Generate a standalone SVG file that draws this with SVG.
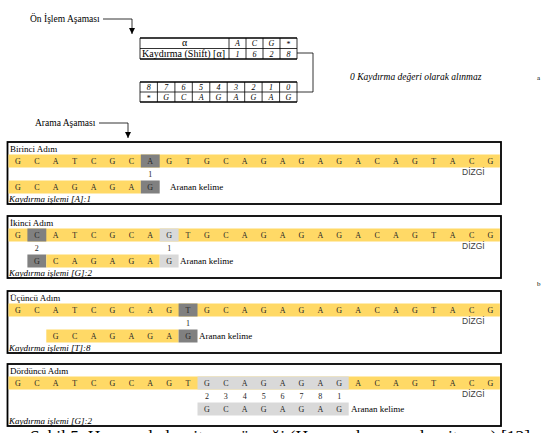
<svg xmlns="http://www.w3.org/2000/svg" width="542" height="433" viewBox="0 0 542 433">
<style>
.box{fill:#fff;stroke:#000;stroke-width:1.8}
.ye{fill:#FFD966}
.dk{fill:#808080}
.lt{fill:#D9D9D9}
.seq{font-family:"Liberation Serif",serif;font-size:8px;fill:#262626;text-anchor:middle}
.lbl{font-family:"Liberation Serif",serif;font-size:9px;fill:#000}
.it{font-style:italic}
.dz{font-family:"Liberation Sans",sans-serif;font-size:8.5px;fill:#404040}
.tb{font-family:"Liberation Serif",serif;fill:#000}
.ti{font-size:8px;font-style:italic;text-anchor:middle}
.thin{stroke:#000;stroke-width:0.8;fill:none}
.thick{stroke:#000;stroke-width:1.5;fill:none}
.conn{stroke:#000;stroke-width:0.8;fill:none}
</style>
<defs>
<marker id="ah" markerUnits="userSpaceOnUse" markerWidth="6" markerHeight="6" refX="6" refY="3" orient="auto">
<path d="M0,0 L6,3 L0,6 z" fill="#000"/>
</marker>
</defs>
<rect width="542" height="433" fill="#fff"/>

<g id="connectors">
<path class="conn" d="M103,19 H132 V34" marker-end="url(#ah)"/>
<path class="conn" d="M99,123 H128 V138" marker-end="url(#ah)"/>
<path class="conn" d="M297,53 H313 V92 H297"/>
</g>

<g id="label-onislem">
<text class="lbl" x="30" y="22" style="font-size:9.5px">Ön İşlem Aşaması</text>
</g>
<g id="label-arama">
<text class="lbl" x="35" y="126" style="font-size:9.5px">Arama Aşaması</text>
</g>

<g id="shift-table">
<path class="thin" d="M140,38 V59 M229,38 V59 M246,38 V59 M263,38 V59 M280,38 V59 M297,38 V59 M140,48.5 H297"/>
<path class="thick" d="M140,38 H297 M140,59 H297"/>
<text class="tb" x="184.5" y="46" text-anchor="middle" font-size="10">α</text>
<text class="tb" x="142" y="56.5" font-size="10">Kaydırma (Shift) [α]</text>
<text class="tb ti" x="237.5 254.5 271.5" y="46">ACG</text>
<text class="tb" x="288.5" y="47" font-size="8" text-anchor="middle">*</text>
<text class="tb ti" x="237.5 254.5 271.5 288.5" y="56.5">1628</text>
</g>

<g id="index-table">
<path class="thin" d="M140,82 V102 M157.4,82 V102 M174.9,82 V102 M192.3,82 V102 M209.8,82 V102 M227.2,82 V102 M244.7,82 V102 M262.1,82 V102 M279.6,82 V102 M297,82 V102 M140,92 H297"/>
<path class="thick" d="M140,82 H297 M140,102 H297"/>
<text class="tb ti" x="148.7 166.2 183.6 201.1 218.5 236 253.4 270.9 288.3" y="90">876543210</text>
<text class="tb" x="148.7" y="101" font-size="8" text-anchor="middle">*</text>
<text class="tb ti" x="166.2 183.6 201.1 218.5 236 253.4 270.9 288.3" y="100">GCAGAGAG</text>
</g>

<g id="note">
<text class="lbl it" x="350" y="80" style="font-size:9.5px">0 Kaydırma değeri olarak alınmaz</text>
<text class="lbl" x="537" y="80" style="font-size:7px">a</text>
<text class="lbl" x="537" y="286" style="font-size:7px">b</text>
</g>

<g id="step1">
<rect class="box" x="7.5" y="142" width="493.5" height="62"/>
<text class="lbl" x="10" y="152">Birinci Adım</text>
<rect class="ye" x="8.5" y="154.5" width="491.4" height="13"/>
<rect class="dk" x="140.8" y="154.5" width="18.9" height="13"/>
<text class="seq" x="17.95 36.85 55.75 74.65 93.55 112.45 131.35 150.25 169.15 188.05 206.95 225.85 244.75 263.65 282.55 301.45 320.35 339.25 358.15 377.05 395.95 414.85 433.75 452.65 471.55 490.45" y="163.7">GCATCGCAGTGCAGAGAGACAGTACG</text>
<text class="seq" x="150.25" y="177">1</text>
<text class="dz" x="462" y="175">DİZGİ</text>
<rect class="ye" x="8.5" y="180.5" width="132.3" height="13"/>
<rect class="dk" x="140.8" y="180.5" width="18.9" height="13"/>
<text class="seq" x="17.95 36.85 55.75 74.65 93.55 112.45 131.35 150.25" y="189.7">GCAGAGAG</text>
<text class="lbl" x="170" y="190">Aranan kelime</text>
<text class="lbl it" x="9" y="201.5">Kaydırma işlemi [A]:1</text>
</g>

<g id="step2">
<rect class="box" x="7.5" y="216" width="493.5" height="62"/>
<text class="lbl" x="10" y="226">İkinci Adım</text>
<rect class="ye" x="8.5" y="228.5" width="491.4" height="13"/>
<rect class="dk" x="27.4" y="228.5" width="18.9" height="13"/>
<rect class="lt" x="159.7" y="228.5" width="18.9" height="13"/>
<text class="seq" x="17.95 36.85 55.75 74.65 93.55 112.45 131.35 150.25 169.15 188.05 206.95 225.85 244.75 263.65 282.55 301.45 320.35 339.25 358.15 377.05 395.95 414.85 433.75 452.65 471.55 490.45" y="237.7">GCATCGCAGTGCAGAGAGACAGTACG</text>
<text class="seq" x="36.85 169.15" y="251">21</text>
<text class="dz" x="462" y="249">DİZGİ</text>
<rect class="dk" x="27.4" y="254.5" width="18.9" height="13"/>
<rect class="ye" x="46.3" y="254.5" width="113.4" height="13"/>
<rect class="lt" x="159.7" y="254.5" width="18.9" height="13"/>
<text class="seq" x="36.85 55.75 74.65 93.55 112.45 131.35 150.25 169.15" y="263.7">GCAGAGAG</text>
<text class="lbl" x="180" y="264">Aranan kelime</text>
<text class="lbl it" x="9" y="275.5">Kaydırma işlemi [G]:2</text>
</g>

<g id="step3">
<rect class="box" x="7.5" y="291" width="493.5" height="62"/>
<text class="lbl" x="10" y="301">Üçüncü Adım</text>
<rect class="ye" x="8.5" y="303.5" width="491.4" height="13"/>
<rect class="dk" x="178.6" y="303.5" width="18.9" height="13"/>
<text class="seq" x="17.95 36.85 55.75 74.65 93.55 112.45 131.35 150.25 169.15 188.05 206.95 225.85 244.75 263.65 282.55 301.45 320.35 339.25 358.15 377.05 395.95 414.85 433.75 452.65 471.55 490.45" y="312.7">GCATCGCAGTGCAGAGAGACAGTACG</text>
<text class="seq" x="188.05" y="326">1</text>
<text class="dz" x="462" y="324">DİZGİ</text>
<rect class="ye" x="46.3" y="329.5" width="132.3" height="13"/>
<rect class="dk" x="178.6" y="329.5" width="18.9" height="13"/>
<text class="seq" x="55.75 74.65 93.55 112.45 131.35 150.25 169.15 188.05" y="338.7">GCAGAGAG</text>
<text class="lbl" x="199" y="339">Aranan kelime</text>
<text class="lbl it" x="9" y="350.5">Kaydırma işlemi [T]:8</text>
</g>

<g id="step4">
<rect class="box" x="7.5" y="364" width="493.5" height="62"/>
<text class="lbl" x="10" y="374">Dördüncü Adım</text>
<rect class="ye" x="8.5" y="376.5" width="491.4" height="13"/>
<rect class="lt" x="197.5" y="376.5" width="151.2" height="13"/>
<text class="seq" x="17.95 36.85 55.75 74.65 93.55 112.45 131.35 150.25 169.15 188.05 206.95 225.85 244.75 263.65 282.55 301.45 320.35 339.25 358.15 377.05 395.95 414.85 433.75 452.65 471.55 490.45" y="385.7">GCATCGCAGTGCAGAGAGACAGTACG</text>
<text class="seq" x="206.95 225.85 244.75 263.65 282.55 301.45 320.35 339.25" y="399">23456781</text>
<text class="dz" x="462" y="397">DİZGİ</text>
<rect class="lt" x="197.5" y="402.5" width="151.2" height="13"/>
<text class="seq" x="206.95 225.85 244.75 263.65 282.55 301.45 320.35 339.25" y="411.7">GCAGAGAG</text>
<text class="lbl" x="351" y="412">Aranan kelime</text>
<text class="lbl it" x="9" y="423.5">Kaydırma işlemi [G]:2</text>
</g>

<g id="figure-caption">
<text x="30" y="442" font-family="Liberation Serif, serif" font-size="17.5" fill="#000">Şekil 5. Horspool algoritması örneği (Horspool arama algoritması) [12]</text>
</g>
</svg>
